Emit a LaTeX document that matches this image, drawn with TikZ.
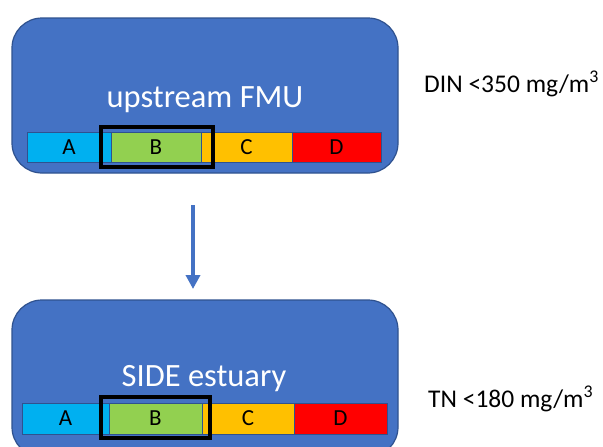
\documentclass[tikz,border=0pt]{standalone}
\usepackage{fontspec}
\setmainfont{Carlito}
\usetikzlibrary{arrows.meta}
\definecolor{boxblue}{HTML}{4472C4}
\definecolor{boxedge}{HTML}{2F528F}
\definecolor{segA}{HTML}{00B0F0}
\definecolor{segB}{HTML}{92D050}
\definecolor{segC}{HTML}{FFC000}
\definecolor{segD}{HTML}{FF0000}
\tikzset{
  fmubox/.style={draw=boxedge, line width=1.2pt, fill=boxblue, rounded corners=30pt,
    minimum width=386pt, inner sep=0pt},
  seg/.style={draw=boxedge, line width=0.8pt, inner sep=0pt, font=\fontsize{23}{23}\selectfont, text=black},
  selbox/.style={draw=black, line width=4pt, inner sep=0pt},
  title/.style={text=white, font=\fontsize{32.5}{32.5}\selectfont, inner sep=0pt},
  limit/.style={text=black, font=\fontsize{25.5}{25.5}\selectfont, inner sep=0pt},
  flow/.style={draw=boxblue, line width=3.5pt, -{Triangle[width=14pt,length=14pt]}}
}
\begin{document}
\begin{tikzpicture}[x=1pt,y=-1pt]
\clip (0,0) rectangle (603,447);
\fill[white] (0,0) rectangle (603,447);
% top box
\node[fmubox, minimum height=155pt] (top) at (205,95.5) {};
\node[title, anchor=base] (toptitle) at (205,107) {upstream FMU};
\node[seg, fill=segA, minimum width=84pt, minimum height=30pt] (tA) at (69,147) {A};
\node[seg, fill=segB, minimum width=90pt, minimum height=30pt] (tB) at (156,147) {B};
\node[seg, fill=segC, minimum width=91pt, minimum height=30pt] (tC) at (246.5,147) {C};
\node[seg, fill=segD, minimum width=89pt, minimum height=30pt] (tD) at (336.5,147) {D};
\node[selbox, minimum width=112pt, minimum height=40pt] (tsel) at (156.5,146.5) {};
\node[limit, anchor=base west] (din) at (424,92) {DIN <350 mg/m\textsuperscript{3}};
% bottom box
\node[fmubox, minimum height=157pt] (bot) at (205,378.5) {};
\node[title, anchor=base] (bottitle) at (204,386.5) {SIDE estuary};
\node[seg, fill=segA, minimum width=87pt, minimum height=31pt] (bA) at (65.5,418.5) {A};
\node[seg, fill=segB, minimum width=93pt, minimum height=31pt] (bB) at (155.5,418.5) {B};
\node[seg, fill=segC, minimum width=92pt, minimum height=31pt] (bC) at (248,418.5) {C};
\node[seg, fill=segD, minimum width=93pt, minimum height=31pt] (bD) at (340.5,418.5) {D};
\node[selbox, minimum width=109pt, minimum height=41pt] (bsel) at (155,417) {};
\node[limit, anchor=base west] (tn) at (428,407) {TN <180 mg/m\textsuperscript{3}};
% arrow
\coordinate (a1) at (193,205);
\coordinate (a2) at (193,289);
\draw[flow] (a1) -- (a2);
\end{tikzpicture}
\end{document}
